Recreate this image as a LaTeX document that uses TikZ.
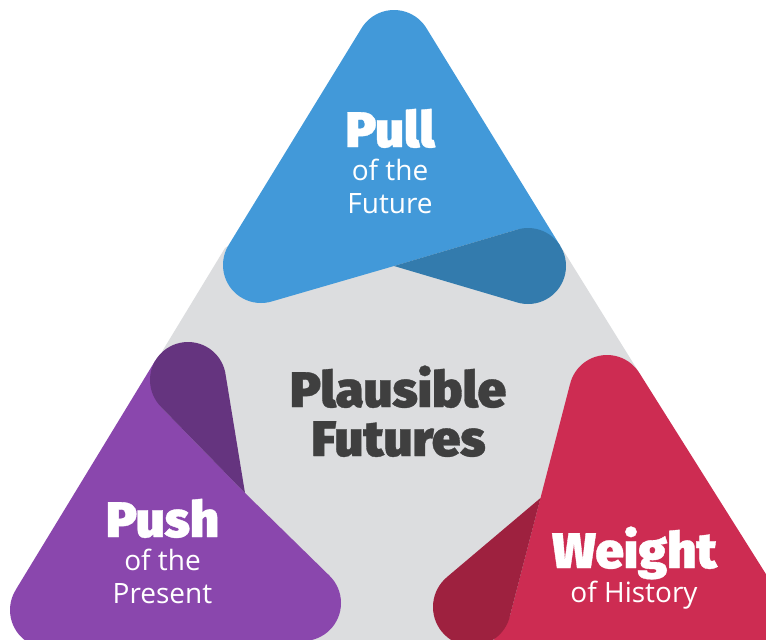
\documentclass[tikz,border=0pt]{standalone}
\usepackage{fontspec}
\setmainfont{Open Sans}
\newfontfamily\heavyfont[FakeBold=0.7,FakeStretch=1.02]{Fira Sans Black}
\definecolor{gback}{HTML}{DCDDDF}
\definecolor{bluef}{HTML}{4299D9}
\definecolor{blued}{HTML}{337BAD}
\definecolor{purpf}{HTML}{8A47AD}
\definecolor{purpd}{HTML}{65347F}
\definecolor{redf}{HTML}{CD2C52}
\definecolor{redd}{HTML}{9E213F}
\definecolor{inkd}{HTML}{3F3F3F}
\tikzset{
  headw/.style={anchor=base,inner sep=0pt,text=white,font=\heavyfont\fontsize{50}{50}\selectfont},
  subw/.style={anchor=base,inner sep=0pt,text=white,font=\fontsize{28}{28}\selectfont},
  headd/.style={anchor=base,inner sep=0pt,text=inkd,font=\heavyfont\fontsize{50}{50}\selectfont},
}
\begin{document}
\begin{tikzpicture}[x=1pt,y=-1pt]
\useasboundingbox (0,0) rectangle (766,640);
\clip (0,0) rectangle (766,640);
% background
\fill[gback] (260,225) -- (225,248) -- (163,350) -- (150,380) -- (150,500) -- (200,640) -- (500,640) -- (600,500) -- (640,374) -- (563,250) -- (528,225) -- cycle;
% blue
\fill[bluef] (361.6,28.1) -- (228.6,245.1) -- (271.6,301.5) -- (394,266) -- (517.4,229.5) -- (560.4,246.1) -- (426.4,28.1) -- cycle
  (394,48) circle[radius=38pt] (261,265) circle[radius=38pt];
\fill[blued] (394,266) -- (517.4,302.5) -- (528,304) -- (566,266) -- (528,228) -- (517.4,229.5) -- cycle (528,266) circle[radius=38pt];
% purple
\fill[purpf] (155.6,360) -- (15.6,590) -- (48,648) -- (303,641) -- (329.9,576.1) -- (245,493) -- (161,407) -- cycle
  (48,610) circle[radius=38pt] (303,603) circle[radius=38pt];
\fill[purpd] (245,493) -- (225.5,374) -- (188,342) -- (161,407) -- cycle (188,380) circle[radius=38pt];
% red
\fill[redf] (570.1,383.8) -- (509.7,616.8) -- (480,660) -- (820,660) -- (639.4,373) -- cycle
  (607,393) circle[radius=38pt];
\fill[redd] (540.5,498) -- (446.8,577.2) -- (472,607) -- (509.7,616.8) -- cycle (472,607) circle[radius=39pt];
% labels
\node[headw] (pull) at (390,147) {Pull};
\node[subw] (pullb) at (390,180) {of the};
\node[subw] (pullc) at (390,213) {Future};
\node[headw] (push) at (162.5,537) {Push};
\node[subw] (pushb) at (162.5,570) {of the};
\node[subw] (pushc) at (162.5,603) {Present};
\node[headw] (weight) at (634.5,568) {Weight};
\node[subw] (weightb) at (634,602) {of History};
\node[headd] (plaus) at (398,407) {Plausible};
\node[headd] (fut) at (398.5,456) {Futures};
\end{tikzpicture}
\end{document}
